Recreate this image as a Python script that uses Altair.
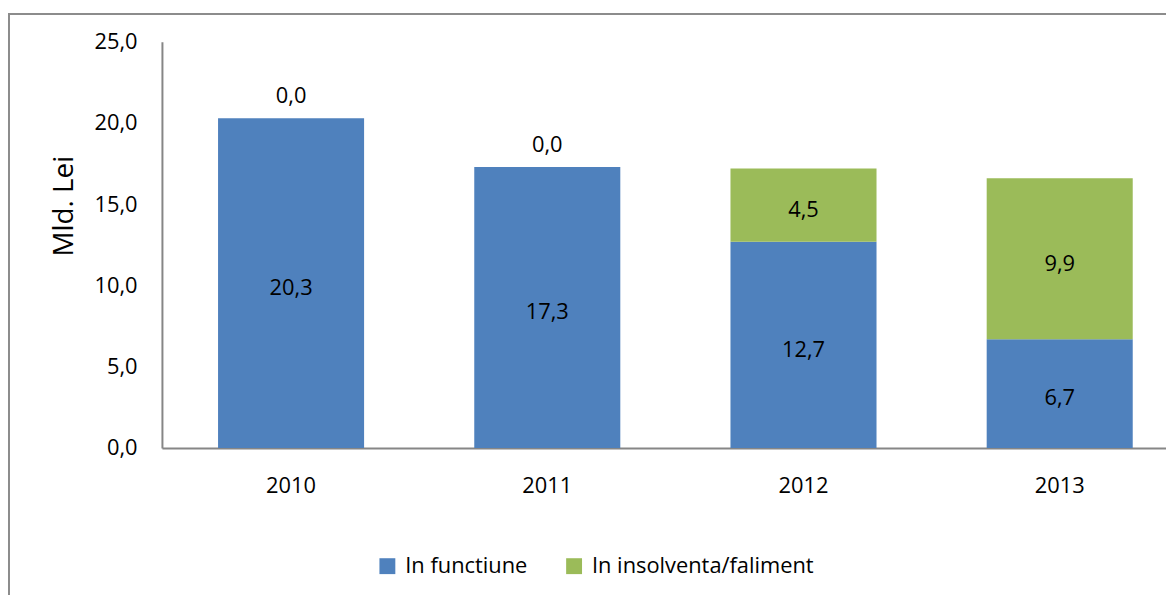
import altair as alt
import pandas as pd

years = ["2010", "2011", "2012", "2013"]
in_functiune = [20.3, 17.3, 12.7, 6.7]
in_insolventa = [0.0, 0.0, 4.5, 9.9]
series = ["In functiune", "In insolventa/faliment"]
colors = ["#4F81BD", "#9BBB59"]
y_ticks = [0, 5, 10, 15, 20, 25]

rows = []
for i, yr in enumerate(years):
    rows.append({"year": yr, "series": series[0], "order": 0, "value": in_functiune[i]})
    rows.append({"year": yr, "series": series[1], "order": 1, "value": in_insolventa[i]})
df = pd.DataFrame(rows)

FONT = "Open Sans"
FS = 22
AXIS_GRAY = "#868686"

base = alt.Chart(df).transform_stack(
    stack="value", groupby=["year"], as_=["y0", "y1"], sort=[alt.SortField("order")]
).transform_calculate(
    mid="(datum.y0 + datum.y1) / 2",
    label="replace(format(datum.value, '.1f'), '.', ',')",
)

x_axis = alt.Axis(
    title=None, labelAngle=0, ticks=False, labelFont=FONT, labelFontSize=FS,
    labelColor="black", labelPadding=28, domainColor=AXIS_GRAY, domainWidth=2,
)
x_scale = alt.Scale(range=[0, 1034], paddingInner=0.43, paddingOuter=0.219)
y_axis = alt.Axis(
    title="Mld. Lei", values=y_ticks, grid=False, ticks=False,
    labelExpr="replace(format(datum.value, '.1f'), '.', ',')",
    labelFont=FONT, labelFontSize=FS, labelColor="black", labelPadding=25,
    domainColor=AXIS_GRAY, domainWidth=2,
    titleFont=FONT, titleFontSize=28, titleFontWeight="normal", titleColor="black",
    titleX=-98, titleY=165, titleAlign="center", titleBaseline="middle",
)
y_scale = alt.Scale(domain=[0, 25], nice=False)

x_enc = alt.X("year:N", sort=years, scale=x_scale, axis=x_axis)

bars = base.mark_bar().encode(
    x=x_enc,
    y=alt.Y("y1:Q", scale=y_scale, axis=y_axis),
    y2="y0:Q",
    color=alt.Color(
        "series:N",
        scale=alt.Scale(domain=series, range=colors),
        legend=alt.Legend(
            orient="none", legendX=216, legendY=517, direction="horizontal",
            title=None, symbolType="square", symbolSize=256, symbolStrokeWidth=0,
            labelFont=FONT, labelFontSize=FS, labelColor="black", labelLimit=0,
            labelOffset=7, columnPadding=35,
        ),
    ),
)

text_mid = base.transform_filter("datum.value != 0").mark_text(
    font=FONT, fontSize=FS, color="black", dy=5
).encode(
    x=x_enc,
    y=alt.Y("mid:Q", scale=y_scale, axis=y_axis),
    text="label:N",
)

text_zero = base.transform_filter("datum.value == 0").mark_text(
    font=FONT, fontSize=FS, color="black", dy=-22
).encode(
    x=x_enc,
    y=alt.Y("y1:Q", scale=y_scale, axis=y_axis),
    text="label:N",
)

border = alt.Chart(pd.DataFrame({"b": [0]})).mark_rect(
    fillOpacity=0, stroke="#8c8c8c", strokeWidth=2
).encode(
    x=alt.value(-154), x2=alt.value(1300), y=alt.value(-28), y2=alt.value(800)
)

chart = alt.layer(border, bars, text_mid, text_zero).properties(
    width=1011, height=409,
    padding={"left": 155, "top": 32, "right": 0, "bottom": 146},
    autosize=alt.AutoSizeParams(type="none"),
).configure_view(stroke=None)

chart.save("out.html", embed_options={"renderer": "svg", "actions": False})
